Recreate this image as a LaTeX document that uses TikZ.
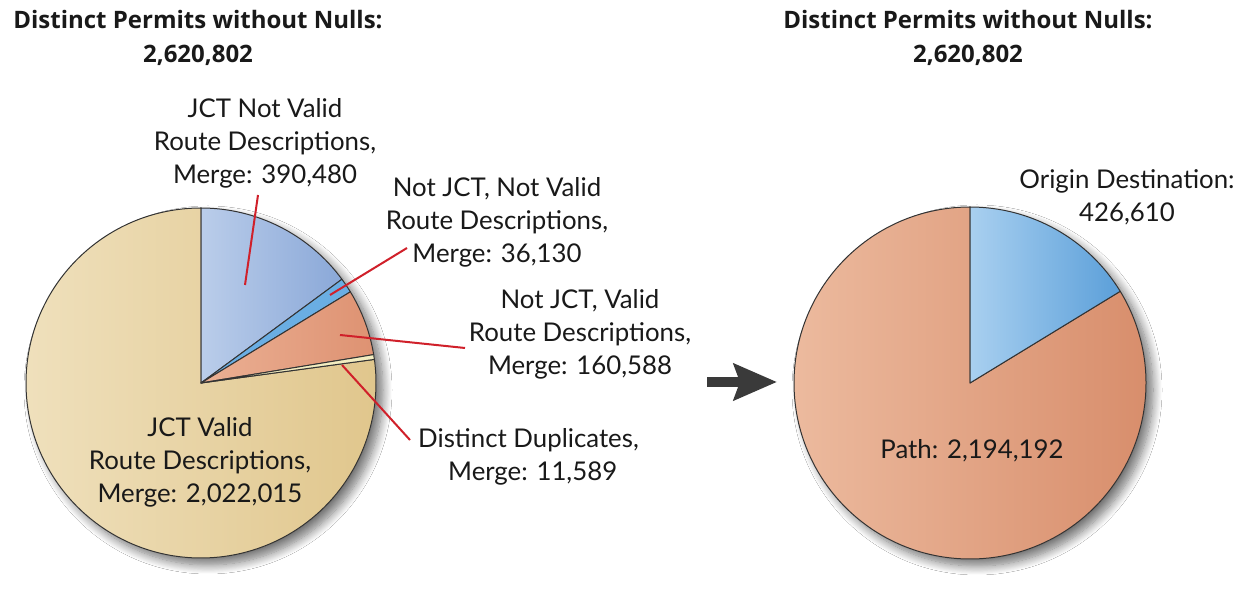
\documentclass[tikz,border=0pt]{standalone}
\usepackage{fontspec}
\setmainfont{Lato}
\newfontfamily\titlefont{Open Sans}
\usetikzlibrary{arrows.meta,shadows.blur}
\definecolor{tanL}{HTML}{EFE0BC}
\definecolor{tanR}{HTML}{E0C68C}
\definecolor{blueL}{HTML}{BACDEA}
\definecolor{blueR}{HTML}{8AA8D8}
\definecolor{lblue}{HTML}{6AAEE3}
\definecolor{orL}{HTML}{EBB094}
\definecolor{orR}{HTML}{DE9272}
\definecolor{dupc}{HTML}{F3EDC0}
\definecolor{rorL}{HTML}{ECBA9E}
\definecolor{rorR}{HTML}{D88E6C}
\definecolor{rblL}{HTML}{A9D0F0}
\definecolor{rblR}{HTML}{5B9FD9}
\definecolor{leader}{HTML}{D0202A}
\definecolor{edge}{HTML}{333333}
\definecolor{arrowc}{HTML}{3A3A3A}
\tikzset{
  slice/.style={draw=edge, line width=1pt, line join=round},
  lbl/.style={font=\fontsize{25.8}{33}\selectfont, align=center, inner sep=0pt, text=black!90},
  ttl/.style={font=\titlefont\bfseries\fontsize{24}{34}\selectfont, align=center, inner sep=0pt, text=black!90},
  leadline/.style={draw=leader, line width=2pt},
  pieshadow/.style={fill=white, blur shadow={shadow xshift=7pt, shadow yshift=-7pt, shadow blur radius=9pt, shadow blur steps=12, shadow opacity=55}},
}
\begin{document}
\begin{tikzpicture}[x=1pt,y=1pt]
\useasboundingbox[fill=white] (0,0) rectangle (1252,599);
% centres
\coordinate (C1) at (201,216);
\coordinate (C2) at (970,216);
\def\rA{175}
\def\rB{176}
% shadows
\path[pieshadow] (C1) circle[radius=\rA];
\path[pieshadow] (C2) circle[radius=\rB];
% left pie
\shade[slice, left color=tanL, right color=tanR] (C1) -- ++(90:\rA) arc[start angle=90, end angle=367.75, radius=\rA] -- cycle;
\shade[slice, left color=blueL, right color=blueR] (C1) -- ++(36.36:\rA) arc[start angle=36.36, end angle=90, radius=\rA] -- cycle;
\fill[slice, fill=lblue] (C1) -- ++(31.40:\rA) arc[start angle=31.40, end angle=36.36, radius=\rA] -- cycle;
\shade[slice, left color=orL, right color=orR] (C1) -- ++(9.34:\rA) arc[start angle=9.34, end angle=31.40, radius=\rA] -- cycle;
\fill[slice, fill=dupc] (C1) -- ++(7.75:\rA) arc[start angle=7.75, end angle=9.34, radius=\rA] -- cycle;
% right pie
\shade[slice, left color=rorL, right color=rorR] (C2) -- ++(90:\rB) arc[start angle=90, end angle=391.4, radius=\rB] -- cycle;
\shade[slice, left color=rblL, right color=rblR] (C2) -- ++(31.4:\rB) arc[start angle=31.4, end angle=90, radius=\rB] -- cycle;
% titles
\node[ttl] (t1) at (198,561) {Distinct Permits without Nulls:\\2,620,802};
\node[ttl] (t2) at (968,561) {Distinct Permits without Nulls:\\2,620,802};
% labels
\node[lbl] (l1) at (265,456) {JCT Not Valid\\Route Descriptions,\\Merge: 390,480};
\node[lbl] (l2) at (497,377) {Not JCT, Not Valid\\Route Descriptions,\\Merge: 36,130};
\node[lbl] (l3) at (580,265) {Not JCT, Valid\\Route Descriptions,\\Merge: 160,588};
\node[lbl, align=left, anchor=west] (l4) at (418,142) {Distinct Duplicates,\\\hspace*{30pt}Merge: 11,589};
\node[lbl] (l5) at (200,137) {JCT Valid\\Route Descriptions,\\Merge: 2,022,015};
\node[lbl] (r1) at (1127,402) {Origin Destination:\\426,610};
\node[lbl] (r2) at (972,148) {Path: 2,194,192};
% leader lines
\coordinate (p1) at (245,314); \coordinate (q1) at (258,404);
\coordinate (p2) at (330,304); \coordinate (q2) at (407,351);
\coordinate (p3) at (340,264); \coordinate (q3) at (465,251);
\coordinate (p4) at (342,234); \coordinate (q4) at (410,159);
\draw[leadline] (p1) -- (q1);
\draw[leadline] (p2) -- (q2);
\draw[leadline] (p3) -- (q3);
\draw[leadline] (p4) -- (q4);
% arrow
\coordinate (a1) at (707,217);
\coordinate (a2) at (777,217);
\draw[draw=arrowc, line width=10pt, -{Stealth[length=43pt, width=36pt, inset=6pt, fill=arrowc]}] (a1) -- (a2);
\end{tikzpicture}
\end{document}
